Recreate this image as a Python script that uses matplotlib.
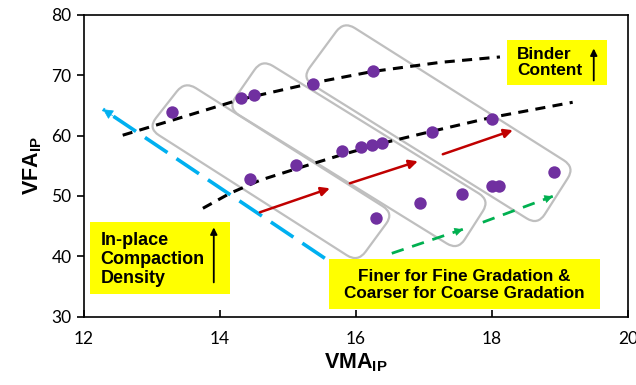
import matplotlib
matplotlib.use("Agg")
import matplotlib.pyplot as plt
import numpy as np
from matplotlib.path import Path
from matplotlib.patches import PathPatch, Rectangle
from matplotlib.transforms import IdentityTransform

plt.rcParams['font.family'] = ['Liberation Sans', 'DejaVu Sans']
plt.rcParams['mathtext.fontset'] = 'custom'
plt.rcParams['mathtext.bf'] = 'Liberation Sans:bold'
plt.rcParams['mathtext.rm'] = 'Liberation Sans:bold'

# measured points (VMA_IP, VFA_IP)
vma = [13.29, 14.31, 14.50, 15.37, 16.25, 14.44, 15.12, 15.79, 16.07, 16.24,
       16.38, 17.12, 18.00, 16.29, 16.94, 17.56, 18.01, 18.10, 18.91]
vfa = [63.9, 66.2, 66.7, 68.5, 70.6, 52.8, 55.1, 57.4, 58.1, 58.4,
       58.7, 60.5, 62.7, 46.3, 48.8, 50.3, 51.6, 51.6, 53.9]

# binder content trend curves
upper_x = [12.57, 13.29, 14.31, 15.37, 16.25, 17.24, 18.12]
upper_y = [60.05, 62.5, 66.0, 68.7, 70.6, 72.1, 73.0]
lower_x = [13.75, 14.15, 14.59, 15.18, 15.76, 16.38, 17.12, 18.0, 19.19]
lower_y = [47.96, 50.45, 52.6, 54.7, 56.7, 58.7, 60.7, 63.0, 65.5]

x_ticks = [12, 14, 16, 18, 20]
y_ticks = [30, 40, 50, 60, 70, 80]

# group outlines: corners (top, right, bottom, left) in data units
groups = [
    [(13.485, 68.99), (16.559, 47.14), (16.029, 39.03), (12.941, 61.21)],
    [(14.618, 72.63), (17.971, 49.29), (17.500, 41.01), (14.118, 64.52)],
    [(15.824, 78.92), (19.221, 54.75), (18.676, 45.15), (15.206, 69.49)],
]

fig = plt.figure(figsize=(6.36, 3.85), dpi=100)
ax = fig.add_axes([0.132, 0.177, 0.855, 0.785])
ax.set_xlim(12, 20)
ax.set_ylim(30, 80)
ax.set_xticks(x_ticks)
ax.set_yticks(y_ticks)
for lab in ax.get_xticklabels() + ax.get_yticklabels():
    lab.set_fontfamily('Lato')
    lab.set_fontsize(12.5)
ax.tick_params(axis='x', direction='in', length=5, width=1.2, pad=10)
ax.tick_params(axis='y', direction='out', length=5, width=1.2, pad=4)
for s in ax.spines.values():
    s.set_linewidth(1.2)

ax.set_xlabel(r'$\mathbf{VMA_{IP}}$', fontsize=15.5, labelpad=3)
ax.set_ylabel(r'$\mathbf{VFA_{IP}}$', fontsize=15.5, labelpad=5)

# trend curves
ax.plot(upper_x, upper_y, color='black', lw=2.2, dashes=(3.3, 2.4), zorder=3)
ax.plot(lower_x, lower_y, color='black', lw=2.2, dashes=(3.3, 2.4), zorder=3)


def rounded(pts, r):
    verts, codes = [], []
    n = len(pts)
    for i in range(n):
        p0, p1, p2 = pts[i - 1], pts[i], pts[(i + 1) % n]
        d0 = (p0 - p1) / np.hypot(*(p0 - p1))
        d2 = (p2 - p1) / np.hypot(*(p2 - p1))
        verts.append(p1 + d0 * r)
        codes.append(Path.MOVETO if i == 0 else Path.LINETO)
        verts += [p1, p1 + d2 * r]
        codes += [Path.CURVE3, Path.CURVE3]
    verts.append(verts[0])
    codes.append(Path.CLOSEPOLY)
    return Path(verts, codes)


fig.canvas.draw()
for g in groups:
    disp = ax.transData.transform(np.array(g))
    ax.add_patch(PathPatch(rounded(list(disp), 13), transform=IdentityTransform(),
                           fill=False, edgecolor='#BFBFBF', lw=1.6, zorder=2))

ax.scatter(vma, vfa, s=80, color='#7030A0', zorder=5, linewidths=0)

# arrows
def arrow(tail, head, color, lw, dashes=None, ms=14):
    if dashes is not None:
        ax.plot([tail[0], head[0]], [tail[1], head[1]], color=color, lw=lw,
                dashes=dashes, zorder=4)
        dx, dy = head[0] - tail[0], head[1] - tail[1]
        t = (head[0] - 0.05 * dx, head[1] - 0.05 * dy)
        ax.annotate('', xy=head, xytext=t,
                    arrowprops=dict(arrowstyle='-|>', color=color, lw=0.5,
                                    mutation_scale=ms, shrinkA=0, shrinkB=0),
                    zorder=4)
    else:
        ax.annotate('', xy=head, xytext=tail,
                    arrowprops=dict(arrowstyle='-|>', color=color, lw=lw,
                                    mutation_scale=ms, shrinkA=0, shrinkB=0),
                    zorder=4)


arrow((15.544, 39.69), (12.279, 64.35), '#00B0F0', 2.6, dashes=(7.5, 3.0), ms=16)
arrow((14.588, 47.30), (15.618, 51.27), '#C00000', 1.8, ms=13)
arrow((15.912, 52.10), (16.912, 55.74), '#C00000', 1.8, ms=13)
arrow((17.279, 56.90), (18.309, 60.88), '#C00000', 1.8, ms=13)
arrow((16.529, 40.51), (17.574, 44.49), '#00B050', 2.0, dashes=(4.5, 3.2), ms=13)
arrow((17.868, 45.65), (18.897, 49.95), '#00B050', 2.0, dashes=(4.5, 3.2), ms=13)

# labelled boxes
yellow = '#FFFF00'
ax.add_patch(Rectangle((18.22, 68.33), 1.47, 7.45, facecolor=yellow,
                       edgecolor='none', zorder=6))
ax.text(18.37, 72.05, 'Binder\nContent', fontsize=12.4, fontweight='bold',
        ha='left', va='center', linespacing=1.1, zorder=7)
ax.annotate('', xy=(19.5, 74.4), xytext=(19.5, 69.1),
            arrowprops=dict(arrowstyle='-|>', color='black', lw=1.3,
                            mutation_scale=10, shrinkA=0, shrinkB=0), zorder=7)

ax.add_patch(Rectangle((12.09, 33.73), 2.06, 11.92, facecolor=yellow,
                       edgecolor='none', zorder=6))
ax.text(12.24, 39.5, 'In-place\nCompaction\nDensity', fontsize=13,
        fontweight='bold', ha='left', va='center', linespacing=1.17, zorder=7)
ax.annotate('', xy=(13.91, 44.8), xytext=(13.91, 35.7),
            arrowprops=dict(arrowstyle='-|>', color='black', lw=1.3,
                            mutation_scale=10, shrinkA=0, shrinkB=0), zorder=7)

ax.add_patch(Rectangle((15.60, 31.24), 3.99, 8.28, facecolor=yellow,
                       edgecolor='none', zorder=6))
ax.text(17.59, 35.3, 'Finer for Fine Gradation &\nCoarser for Coarse Gradation',
        fontsize=12.3, fontweight='bold', ha='center', va='center',
        linespacing=1.15, zorder=7)

fig.savefig('out.png', dpi=100)
